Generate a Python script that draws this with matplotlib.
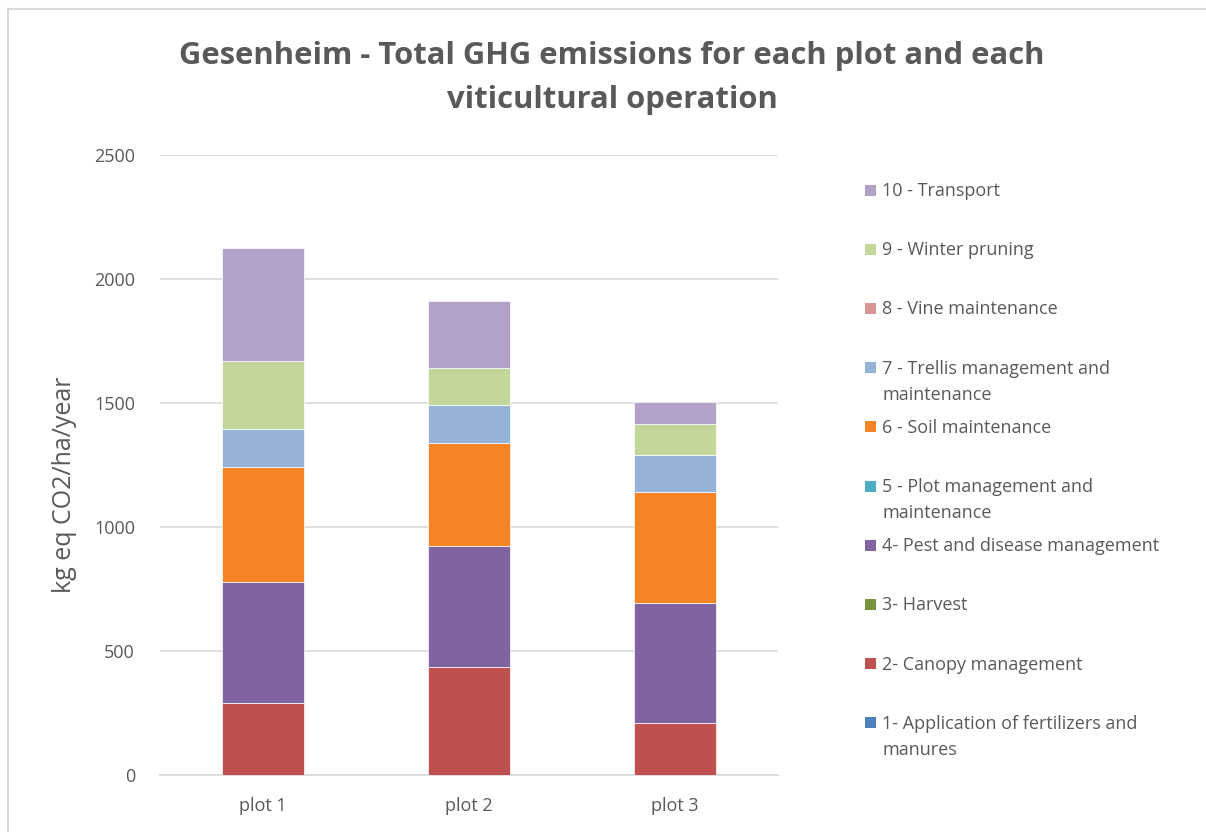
import matplotlib
matplotlib.use("Agg")
import matplotlib.pyplot as plt
from matplotlib.patches import Rectangle
import numpy as np

plt.rcParams['font.family'] = ['Open Sans', 'DejaVu Sans']

plots = ["plot 1", "plot 2", "plot 3"]
series_names = [
    "1- Application of fertilizers and\nmanures",
    "2- Canopy management",
    "3- Harvest",
    "4- Pest and disease management",
    "5 - Plot management and\nmaintenance",
    "6 - Soil maintenance",
    "7 - Trellis management and\nmaintenance",
    "8 - Vine maintenance",
    "9 - Winter pruning",
    "10 - Transport",
]
fertilizers = [0, 0, 0]
canopy = [292, 435, 208]
harvest = [0, 0, 0]
pest = [485, 487, 484]
plot_mgmt = [0, 0, 0]
soil = [465, 417, 450]
trellis = [154, 152, 150]
vine = [0, 0, 0]
winter = [272, 152, 125]
transport = [457, 269, 86]
series_values = [fertilizers, canopy, harvest, pest, plot_mgmt, soil,
                 trellis, vine, winter, transport]
colors = ["#4F81BD", "#C0504D", "#77933C", "#8064A2", "#4BACC6",
          "#F58426", "#95B3D7", "#D99694", "#C4D79B", "#B3A2C7"]
yticks = [0, 500, 1000, 1500, 2000, 2500]

TXT = "#595959"
W, H = 1206, 832
fig = plt.figure(figsize=(W / 100, H / 100), dpi=100)
fig.patch.set_facecolor("white")

# outer chart border (top and left visible)
fig.patches.append(Rectangle((8 / W, -0.1), 1.2, (1 - 9 / H) + 0.1,
                             transform=fig.transFigure, fill=False,
                             edgecolor="#D9D9D9", linewidth=1.5))

ax = fig.add_axes([160 / W, 1 - 775 / H, (778 - 160) / W, (775 - 155) / H])
x = np.arange(len(plots))
bottom = np.zeros(len(plots))
for name, vals, c in zip(series_names, series_values, colors):
    v = np.array(vals, dtype=float)
    ax.bar(x, v, 0.4, bottom=bottom, color=c, edgecolor="white",
           linewidth=0.5, label=name, zorder=3)
    bottom += v

ax.set_xlim(-0.5, len(plots) - 0.5)
ax.set_ylim(0, 2500)
ax.set_yticks(yticks)
ax.set_yticklabels([str(t) for t in yticks], fontsize=13, color=TXT)
ax.set_xticks(x)
ax.set_xticklabels(plots, fontsize=13, color=TXT)
ax.tick_params(axis='both', length=0)
ax.tick_params(axis='y', pad=18)
ax.tick_params(axis='x', pad=16)
ax.grid(axis='y', color="#D9D9D9", linewidth=1.2, zorder=0)
for s in ["top", "right", "left"]:
    ax.spines[s].set_visible(False)
ax.spines["bottom"].set_color("#D9D9D9")
ax.spines["bottom"].set_linewidth(1.2)
ax.set_ylabel("kg eq CO2/ha/year", fontsize=18, color=TXT)
ax.yaxis.set_label_coords(-0.135, 0.468)

fig.text(612 / W, 1 - 78 / H,
         "Gesenheim - Total GHG emissions for each plot and each\nviticultural operation",
         ha="center", va="center", fontsize=22.3, fontweight="bold",
         color=TXT, linespacing=1.6)

# legend (reverse order, fixed slots)
for i, (name, c) in enumerate(zip(series_names[::-1], colors[::-1])):
    yc = 190 + i * 59.2
    fig.patches.append(Rectangle((865 / W, 1 - (yc + 5.5) / H), 11 / W, 11 / H,
                                 transform=fig.transFigure, facecolor=c,
                                 edgecolor="none"))
    fig.text(882 / W, 1 - (yc - 8) / H, name, ha="left", va="top",
             fontsize=13, color=TXT, linespacing=1.6)

fig.savefig("out.png", dpi=100, facecolor="white")
